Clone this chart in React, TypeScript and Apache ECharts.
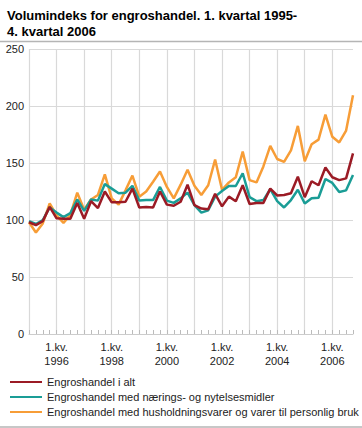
import React, { useEffect, useRef } from "react";
import * as echarts from "echarts";

const titleText = "Volumindeks for engroshandel. 1. kvartal 1995-\n4. kvartal 2006";
const years = [1995, 1996, 1997, 1998, 1999, 2000, 2001, 2002, 2003, 2004, 2005, 2006];
const quarterNames = ["1.kv.", "2.kv.", "3.kv.", "4.kv."];
const categories = years.flatMap((y) => quarterNames.map((q) => `${q} ${y}`));

const seriesNames = [
  "Engroshandel i alt",
  "Engroshandel med nærings- og nytelsesmidler",
  "Engroshandel med husholdningsvarer og varer til personlig bruk",
];

const totalValues = [
  98, 95.5, 99, 111.5, 101.5, 101, 101, 115, 101, 116.5, 110.5, 125,
  115.5, 115.5, 116, 127.5, 111, 111.5, 111, 125, 113.5, 112.5, 116, 131,
  113, 110, 109.5, 123, 112, 120.5, 116.5, 130.5, 114, 115, 115, 127.5,
  121.5, 122, 123.5, 138, 120, 134, 130.5, 146, 137.5, 135, 136.5, 158.5,
];
const foodValues = [
  99, 96.5, 100, 111, 106.5, 102.5, 106, 118, 108, 118, 117, 131.5,
  127.5, 123.5, 124, 130, 117, 117.5, 117.5, 129, 117, 115, 119, 124,
  113, 106.5, 108.5, 120.5, 125.5, 129.8, 129.8, 141, 120, 116.5, 117.5, 127,
  116.5, 111, 117.5, 126.5, 114.5, 119, 119.5, 136, 132.5, 124.5, 126, 139.5,
];
const householdValues = [
  98, 89, 97, 114.5, 104, 97.5, 104.5, 124, 109, 118, 122, 140,
  119, 113.5, 126, 139, 120.5, 125, 133.5, 142.5, 129, 119, 131, 144,
  130, 122, 130.5, 153, 126.5, 133, 137.5, 160, 135, 133, 147, 165,
  153.5, 151, 161, 182.5, 151.5, 166.5, 170.5, 192.5, 173, 168, 178.5, 209.5,
];

const colors = ["#9b1b25", "#1a9d96", "#f79d37"];
const font = "'Liberation Sans', Arial, sans-serif";

export default function App() {
  const ref = useRef<HTMLDivElement>(null);
  useEffect(() => {
    if (!ref.current) return;
    const chart = echarts.init(ref.current, undefined, { renderer: "svg" });
    chart.setOption({
      animation: false,
      backgroundColor: "#ffffff",
      textStyle: { fontFamily: font },
      title: {
        text: titleText,
        left: 2,
        top: 2,
        textStyle: { fontSize: 13, fontWeight: "bold", color: "#000", lineHeight: 16, fontFamily: font },
      },
      graphic: [
        { type: "line", shape: { x1: 0, y1: 41.5, x2: 362, y2: 41.5 }, style: { stroke: "#b5b5b5", lineWidth: 1.5 } },
        { type: "line", shape: { x1: 0, y1: 427, x2: 362, y2: 427 }, style: { stroke: "#b5b5b5", lineWidth: 1.5 } },
      ],
      legend: {
        orient: "vertical",
        left: 10,
        top: 375,
        width: 350,
        height: 80,
        padding: 0,
        itemWidth: 32,
        itemHeight: 2,
        itemGap: 1,
        icon: "rect",
        data: seriesNames,
        textStyle: { fontSize: 11, color: "#222", lineHeight: 14, fontFamily: font },
      },
      grid: { left: 29, right: 9, top: 49, bottom: 94 },
      xAxis: {
        type: "category",
        data: categories,
        boundaryGap: false,
        axisLine: { show: true, lineStyle: { color: "#ccc" } },
        axisTick: { show: true, interval: 0, inside: true, length: 4, lineStyle: { color: "#bbb" } },
        splitLine: { show: true, interval: (i: number) => i % 4 === 0, lineStyle: { color: "#d9d9d9", width: 1.2 } },
        axisLabel: {
          interval: (i: number) => i % 8 === 4,
          formatter: (v: string) => v.replace(" ", "\n"),
          fontSize: 11,
          color: "#222",
          lineHeight: 14,
          margin: 6,
          fontFamily: font,
        },
      },
      yAxis: {
        type: "value",
        min: 0,
        max: 250,
        interval: 50,
        axisLine: { show: false },
        axisTick: { show: false },
        splitLine: { lineStyle: { color: "#d9d9d9", width: 1.2 } },
        axisLabel: { fontSize: 11, color: "#222", margin: 5, fontFamily: font },
      },
      series: [
        { name: seriesNames[2], type: "line", data: householdValues, showSymbol: false, color: colors[2], lineStyle: { width: 2.5 }, z: 2 },
        { name: seriesNames[1], type: "line", data: foodValues, showSymbol: false, color: colors[1], lineStyle: { width: 2.5 }, z: 3 },
        { name: seriesNames[0], type: "line", data: totalValues, showSymbol: false, color: colors[0], lineStyle: { width: 2.5 }, z: 4 },
      ],
    });
    return () => chart.dispose();
  }, []);
  return <div ref={ref} style={{ position: "fixed", left: 0, top: 0, width: 362, height: 428 }} />;
}
